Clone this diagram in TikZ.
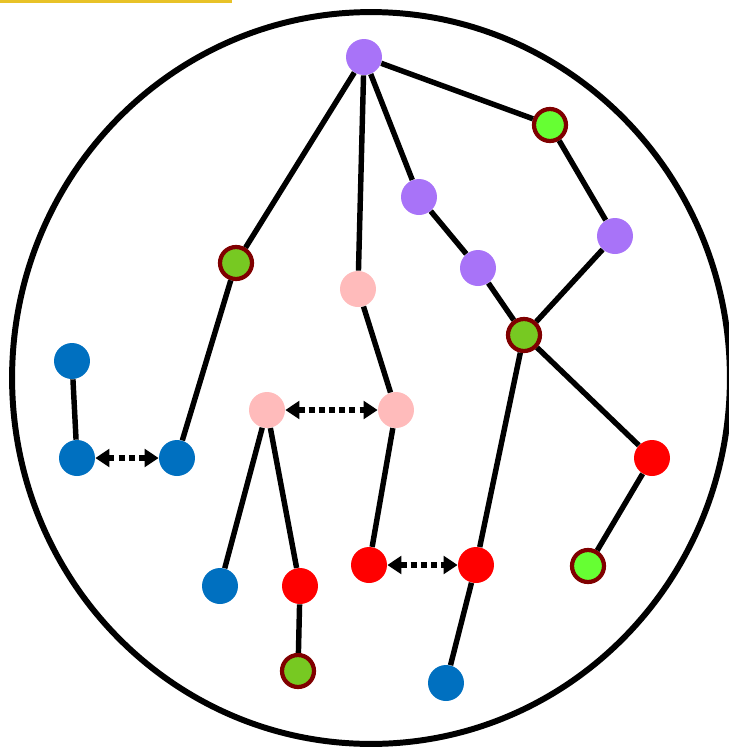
\documentclass[tikz,border=0pt]{standalone}
\usetikzlibrary{arrows.meta}
\definecolor{dotblue}{HTML}{0070C0}
\definecolor{dotred}{HTML}{FF0000}
\definecolor{dotpink}{HTML}{FFBBBB}
\definecolor{dotpurple}{HTML}{A873F8}
\definecolor{ringred}{HTML}{800000}
\definecolor{limegreen}{HTML}{66FF33}
\definecolor{olivegreen}{HTML}{77C922}
\definecolor{baryellow}{HTML}{E8C228}

\begin{document}
\begin{tikzpicture}[x=0.02cm, y=-0.02cm,
    dot/.style={circle, inner sep=0pt, minimum size=0.72cm},
    ringdot/.style={circle, inner sep=0pt, minimum size=0.64cm, draw=ringred, line width=2.4pt},
    link/.style={line width=3.1pt},
    swap/.style={line width=3.1pt, dash pattern=on 3.4pt off 2.4pt,
      {Triangle[length=8pt,width=10pt]}-{Triangle[length=8pt,width=10pt]}}]
  \useasboundingbox (0,0) rectangle (729,748);
  \draw[baryellow, line width=1.8pt] (0,1) -- (232,1);
  \draw[line width=3.4pt] (371,378) ellipse [x radius=7.18cm, y radius=7.32cm];

  % plain dots, one colour each
  \foreach \n/\x/\y in {p1/364/57, p2/419/197, p3/478/268, p4/615/236}
    \node[dot, fill=dotpurple] (\n) at (\x,\y) {};
  \foreach \n/\x/\y in {k1/358/289, k2/267/410, k3/396/410}
    \node[dot, fill=dotpink] (\n) at (\x,\y) {};
  \foreach \n/\x/\y in {b1/72/361, b2/77/458, b3/177/458, b4/220/586, b5/446/683}
    \node[dot, fill=dotblue] (\n) at (\x,\y) {};
  \foreach \n/\x/\y in {r1/652/458, r2/300/586, r3/369/565, r4/476/565}
    \node[dot, fill=dotred] (\n) at (\x,\y) {};

  % ringed dots
  \foreach \n/\x/\y/\c in {g1/550/125/limegreen, g2/236/263/olivegreen,
      g3/524/335/olivegreen, g4/588/566/limegreen, g5/298/671/olivegreen}
    \node[ringdot, fill=\c] (\n) at (\x,\y) {};

  % tree edges
  \foreach \a/\b in {p1/g1, p1/g2, p1/k1, p1/p2, g1/p4, p2/p3, p3/g3, p4/g3,
      g3/r1, g3/r4, r1/g4, r4/b5, g2/b3, k1/k3, k3/r3, k2/b4, k2/r2, r2/g5, b1/b2}
    \draw[link] (\a) -- (\b);

  % swaps
  \draw[swap] (b2) -- (b3);
  \draw[swap] (k2) -- (k3);
  \draw[swap] (r3) -- (r4);
\end{tikzpicture}
\end{document}
